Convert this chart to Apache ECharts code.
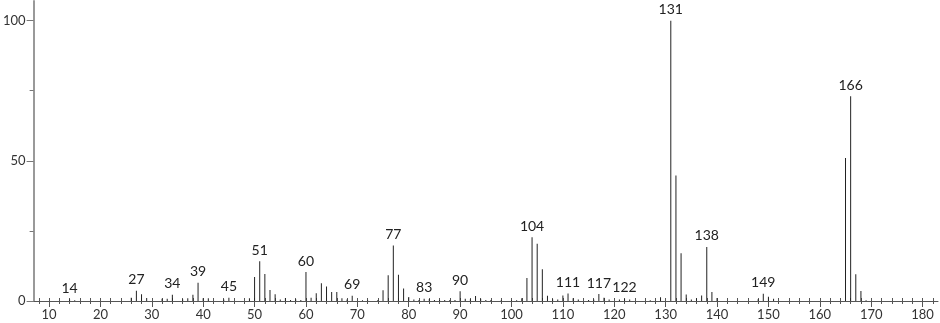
<!DOCTYPE html>
<html>
<head>
<meta charset="utf-8">
<script src="https://cdn.jsdelivr.net/npm/echarts@6/dist/echarts.min.js"></script>
<style>html,body{margin:0;padding:0;background:#fff}#c{width:940px;height:323px}</style>
</head>
<body>
<div id="c"></div>
<script>
const masses = [14,15,26,27,28,29,32,33,34,36,37,38,39,40,41,44,45,49,50,51,52,53,54,55,56,57,58,59,60,61,62,63,64,65,66,67,68,69,71,72,74,75,76,77,78,79,80,81,82,83,84,85,86,87,88,89,90,91,92,93,94,95,96,98,100,101,102,103,104,105,106,107,108,109,110,111,112,113,115,116,117,118,119,121,122,123,127,129,131,132,133,134,135,136,137,138,139,140,148,149,150,151,165,166,167,168,169];
const intensities = [0.5,0.3,1.2,3.7,2.4,1.1,0.8,0.8,2.2,0.6,1.0,2.2,6.5,1.0,1.0,0.5,1.2,1.0,8.6,14.2,9.6,3.9,2.4,0.5,1.1,0.4,0.6,0.4,10.3,1.2,2.8,6.3,5.2,3.2,3.2,1.0,0.5,1.9,0.3,0.3,0.4,3.8,9.2,19.8,9.4,4.5,1.4,0.5,0.4,0.8,0.7,0.4,0.4,0.4,0.4,0.4,3.5,0.8,0.6,1.8,0.8,0.4,0.4,0.3,0.3,0.3,1.0,8.2,22.7,20.4,11.3,1.9,0.6,0.5,2.0,2.7,1.0,0.5,0.4,0.5,2.5,1.2,0.5,0.5,0.8,0.5,0.3,1.3,100,44.8,17,2.3,0.5,1.0,2.0,19.3,3.2,1.1,0.6,2.6,1.5,0.8,51,73,9.5,3.6,0.3];
const labelledPeaks = [14,27,34,39,45,51,60,69,77,83,90,104,111,117,122,131,138,149,166];
const xTickValues = [10,20,30,40,50,60,70,80,90,100,110,120,130,140,150,160,170,180];
const xMinorTicks = [];
for (let v = 8; v <= 182; v += 2) { if (v % 10 !== 0) xMinorTicks.push(v); }
const yTickValues = [0,50,100];
const yMinorTicks = [25,75];

const FONT = 'Lato, "Noto Sans", sans-serif';
const data = masses.map((m, i) => ({
  value: [m, intensities[i]],
  label: { show: labelledPeaks.includes(m) }
}));

const chart = echarts.init(document.getElementById('c'), null, {renderer: 'canvas'});
const xBase = {type: 'value', min: 7, max: 183, splitLine: {show: false}, gridIndex: 0};
const yBase = {type: 'value', min: 0, max: 107, splitLine: {show: false}, gridIndex: 0};
chart.setOption({
  animation: false,
  grid: {left: 28, right: 2, top: 1, bottom: 22, containLabel: false},
  xAxis: [
    Object.assign({}, xBase, {
      axisLine: {show: true, onZero: false, lineStyle: {color: '#555', width: 1}},
      axisTick: {show: true, customValues: xTickValues, length: 6, inside: false, lineStyle: {color: '#555'}},
      axisLabel: {show: true, customValues: xTickValues, margin: 7, color: '#333', fontSize: 13, fontFamily: FONT}
    }),
    Object.assign({}, xBase, {
      position: 'bottom', offset: 0,
      axisLine: {show: false, onZero: false},
      axisTick: {show: true, customValues: xMinorTicks, length: 3, inside: false, lineStyle: {color: '#555'}},
      axisLabel: {show: false}
    }),
    Object.assign({}, xBase, {
      position: 'bottom', offset: 0,
      axisLine: {show: false, onZero: false},
      axisTick: {show: true, customValues: xTickValues.concat(xMinorTicks), length: 3, inside: true, lineStyle: {color: '#555'}},
      axisLabel: {show: false}
    })
  ],
  yAxis: [
    Object.assign({}, yBase, {
      axisLine: {show: true, onZero: false, lineStyle: {color: '#999', width: 2}},
      axisTick: {show: true, customValues: yTickValues, length: 7, lineStyle: {color: '#777'}},
      axisLabel: {show: true, customValues: yTickValues, margin: 8, color: '#333', fontSize: 13, fontFamily: FONT}
    }),
    Object.assign({}, yBase, {
      position: 'left', offset: 0,
      axisLine: {show: false, onZero: false},
      axisTick: {show: true, customValues: yMinorTicks, length: 4, lineStyle: {color: '#777'}},
      axisLabel: {show: false}
    })
  ],
  series: [{
    type: 'bar',
    xAxisIndex: 0, yAxisIndex: 0,
    barWidth: 1,
    itemStyle: {color: '#222'},
    label: {position: 'top', distance: 4, color: '#222', fontSize: 14, fontFamily: FONT,
      formatter: p => String(p.value[0])},
    data: data
  }]
});
</script>
</body>
</html>
